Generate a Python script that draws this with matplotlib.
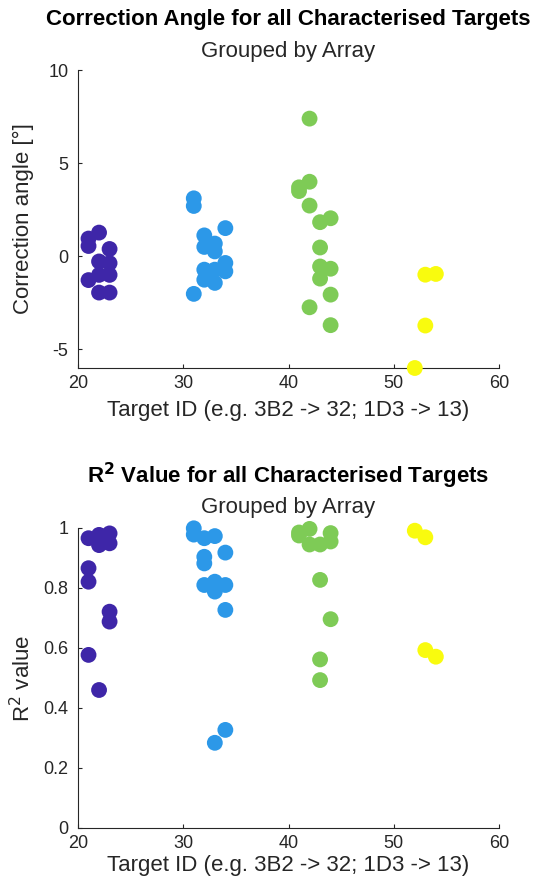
import matplotlib
matplotlib.use("Agg")
import matplotlib.pyplot as plt

plt.rcParams['font.family'] = ['Liberation Sans', 'DejaVu Sans']
plt.rcParams['axes.unicode_minus'] = False

# ---- data: correction angle (top) ----
purple_x_ang = [21, 21, 21, 22, 22, 22, 22, 23, 23, 23, 23]
purple_y_ang = [0.95, 0.55, -1.28, 1.27, -0.28, -1.0, -1.95, 0.39, -0.37, -1.0, -1.95]
blue_x_ang = [31, 31, 31, 32, 32, 32, 32, 33, 33, 33, 33, 34, 34, 34]
blue_y_ang = [3.11, 2.70, -2.02, 1.12, 0.50, -0.72, -1.26, 0.68, 0.26, -0.72, -1.43, 1.51, -0.36, -0.81]
green_x_ang = [41, 41, 42, 42, 42, 42, 43, 43, 43, 43, 44, 44, 44, 44]
green_y_ang = [3.5, 3.7, 7.39, 4.0, 2.72, -2.74, 1.83, 0.47, -0.55, -1.2, 2.04, -0.67, -2.06, -3.7]
yellow_x_ang = [52, 53, 53, 54]
yellow_y_ang = [-6.0, -0.99, -3.72, -0.95]

# ---- data: R^2 (bottom) ----
purple_x_r2 = [21, 21, 21, 21, 22, 22, 22, 23, 23, 23, 23]
purple_y_r2 = [0.966, 0.866, 0.821, 0.577, 0.977, 0.943, 0.46, 0.982, 0.949, 0.721, 0.688]
blue_x_r2 = [31, 31, 32, 32, 32, 32, 33, 33, 33, 33, 34, 34, 34, 34]
blue_y_r2 = [0.999, 0.978, 0.966, 0.904, 0.882, 0.81, 0.973, 0.821, 0.788, 0.284, 0.918, 0.81, 0.727, 0.327]
green_x_r2 = [41, 41, 42, 42, 43, 43, 43, 43, 44, 44, 44]
green_y_r2 = [0.985, 0.975, 0.997, 0.945, 0.945, 0.827, 0.562, 0.493, 0.983, 0.955, 0.696]
yellow_x_r2 = [52, 53, 53, 54]
yellow_y_r2 = [0.991, 0.969, 0.593, 0.571]

colors = ['#3e26a8', '#2c98e8', '#7ecb56', '#f9fb0e']

xticks = [20, 30, 40, 50, 60]
yticks_ang = [-5, 0, 5, 10]
yticks_r2 = [0, 0.2, 0.4, 0.6, 0.8, 1]
ytick_labels_r2 = ['0', '0.2', '0.4', '0.6', '0.8', '1']

W, H = 543, 892
fig = plt.figure(figsize=(W / 100, H / 100), dpi=100)

def axes_px(left, top, right, bottom):
    return fig.add_axes([left / W, 1 - bottom / H, (right - left) / W, (bottom - top) / H])

ax1 = axes_px(78, 70, 499, 368)
ax2 = axes_px(78, 528, 499, 828)

txtc = '#262626'
msize = 130
tick_fs = 13
label_fs = 16
title_fs = 16

def style(ax):
    for s in ['top', 'right']:
        ax.spines[s].set_visible(False)
    for s in ['left', 'bottom']:
        ax.spines[s].set_color(txtc)
        ax.spines[s].set_linewidth(0.8)
    ax.tick_params(direction='in', length=3, width=0.8, colors=txtc, labelsize=tick_fs)
    ax.tick_params(axis='y', pad=7)
    ax.tick_params(axis='x', pad=5)
    ax.set_xlim(20, 60)
    ax.set_xticks(xticks)

groups_ang = [(purple_x_ang, purple_y_ang), (blue_x_ang, blue_y_ang),
              (green_x_ang, green_y_ang), (yellow_x_ang, yellow_y_ang)]
for (xs, ys), c in zip(groups_ang, colors):
    ax1.scatter(xs, ys, s=msize, color=c, edgecolors='none', clip_on=False, zorder=3)
style(ax1)
ax1.set_ylim(-6, 10)
ax1.set_yticks(yticks_ang)
ax1.set_xlabel('Target ID (e.g. 3B2 -> 32; 1D3 -> 13)', fontsize=label_fs, color=txtc, va='center')
ax1.set_ylabel('Correction angle [°]', fontsize=label_fs, color=txtc, va='center')
ax1.xaxis.set_label_coords(0.5, -(410 - 368) / 298)
ax1.yaxis.set_label_coords((23 - 78) / 421, 0.5)

groups_r2 = [(purple_x_r2, purple_y_r2), (blue_x_r2, blue_y_r2),
             (green_x_r2, green_y_r2), (yellow_x_r2, yellow_y_r2)]
for (xs, ys), c in zip(groups_r2, colors):
    ax2.scatter(xs, ys, s=msize, color=c, edgecolors='none', clip_on=False, zorder=3)
style(ax2)
ax2.set_ylim(0, 1)
ax2.set_yticks(yticks_r2)
ax2.set_yticklabels(ytick_labels_r2)
ax2.set_xlabel('Target ID (e.g. 3B2 -> 32; 1D3 -> 13)', fontsize=label_fs, color=txtc, va='center')
ax2.set_ylabel('R$^2$ value', fontsize=label_fs, color=txtc, va='center')
ax2.xaxis.set_label_coords(0.5, -(866 - 828) / 300)
ax2.yaxis.set_label_coords((23 - 78) / 421, 0.5)

cx = (78 + 499) / 2 / W
fig.text(cx, 1 - 20 / H, 'Correction Angle for all Characterised Targets', ha='center', va='center',
         fontsize=title_fs, fontweight='bold', color='black')
fig.text(cx, 1 - 52 / H, 'Grouped by Array', ha='center', va='center', fontsize=title_fs, color=txtc)
fig.text(cx, 1 - 476 / H, 'R$^\\mathbf{2}$ Value for all Characterised Targets', ha='center', va='center',
         fontsize=title_fs, fontweight='bold', color='black')
fig.text(cx, 1 - 508 / H, 'Grouped by Array', ha='center', va='center', fontsize=title_fs, color=txtc)

fig.savefig('out.png', dpi=100, facecolor='white')
